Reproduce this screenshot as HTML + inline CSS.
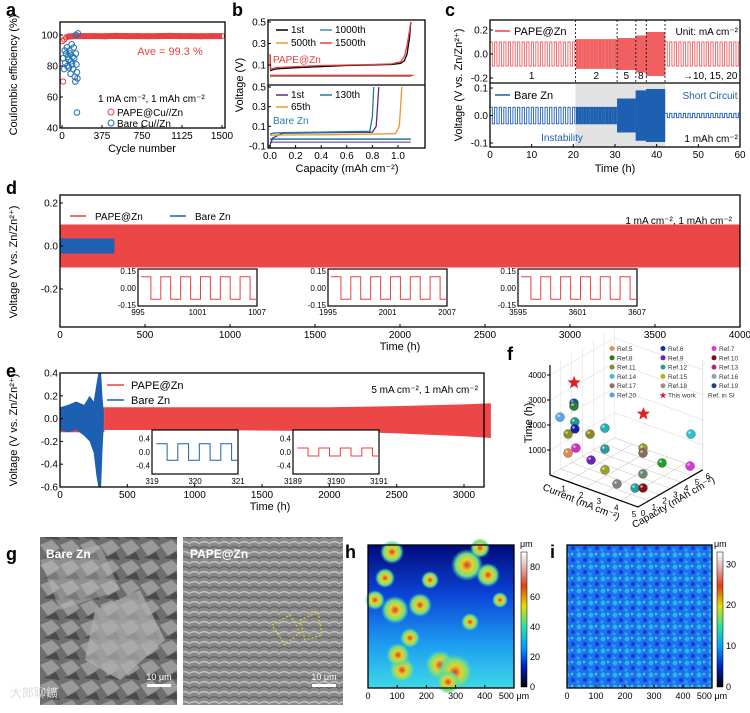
<!DOCTYPE html>
<html><head><meta charset="utf-8"><style>
html,body{margin:0;padding:0;background:#fff}
svg{display:block;font-family:"Liberation Sans",sans-serif}
</style></head><body>
<svg id="fig" width="750" height="713" viewBox="0 0 750 713" xmlns="http://www.w3.org/2000/svg">
<defs>
<linearGradient id="hgrad" x1="0" y1="0" x2="0" y2="1"><stop offset="0" stop-color="#000a7a"/><stop offset="0.35" stop-color="#0c44d8"/><stop offset="0.7" stop-color="#1d9ef0"/><stop offset="1" stop-color="#3fd8e8"/></linearGradient>
<linearGradient id="cbar1" x1="0" y1="1" x2="0" y2="0"><stop offset="0" stop-color="#000"/><stop offset="0.15" stop-color="#0020c0"/><stop offset="0.3" stop-color="#00a0ff"/><stop offset="0.45" stop-color="#30e0a0"/><stop offset="0.6" stop-color="#e0e000"/><stop offset="0.75" stop-color="#e04010"/><stop offset="0.88" stop-color="#e0b0b0"/><stop offset="1" stop-color="#fff"/></linearGradient>
<pattern id="inoise" width="12" height="12" patternUnits="userSpaceOnUse"><rect width="12" height="12" fill="#1e70f0"/><circle cx="3" cy="3" r="2.5" fill="#27b5ee"/><circle cx="9" cy="8" r="2" fill="#0a3fd0"/><circle cx="8" cy="2" r="1.3" fill="#40d0c0"/><circle cx="2" cy="10" r="1.6" fill="#2aa0f0"/></pattern>
<pattern id="sem1" width="20" height="20" patternUnits="userSpaceOnUse"><rect width="20" height="20" fill="#6e6e6e"/><path d="M0 5 L12 0 L20 8 L8 16Z" fill="#9a9a9a"/><path d="M4 18 L16 12 L20 20Z" fill="#4a4a4a"/></pattern>
<pattern id="sem2" width="10" height="10" patternUnits="userSpaceOnUse"><rect width="10" height="10" fill="#8a8a8a"/><path d="M0 3 Q5 0 10 4" stroke="#c8c8c8" stroke-width="1.3" fill="none"/><path d="M0 8 Q5 5 10 9" stroke="#555" stroke-width="1" fill="none"/></pattern>
<radialGradient id="blob"><stop offset="0" stop-color="#d04020"/><stop offset="0.35" stop-color="#e8d030"/><stop offset="0.7" stop-color="#70e080"/><stop offset="1" stop-color="#40c0e0" stop-opacity="0"/></radialGradient>
</defs>
</svg>
<script>
// ---------- DATA ----------
const aRedCycles=[3,10,20,40,60,100,200,300,400,500,600,700,800,900,1000,1100,1200,1300,1400,1500];
const aRedCE=[96,70,97,98.5,99,99.2,99.3,99.3,99.2,99.4,99.3,99.3,99.2,99.3,99.4,99.3,99.3,99.2,99.3,99.3];
const aBlueCycles=[10,20,25,30,40,45,50,55,60,65,70,75,80,85,90,95,100,105,110,115,120,125,130,135,140,145,150,140,130];
const aBlueCE=[85,78,90,82,88,92,80,86,84,79,90,88,75,83,94,81,86,78,92,85,73,70,88,81,76,72,101,50,100];
const bCapPAPE=[0,0.005,0.05,0.2,0.4,0.6,0.8,0.95,1.02,1.05,1.07,1.09,1.1];
const bV1st=[0.2,0.05,0.065,0.075,0.085,0.095,0.1,0.105,0.115,0.14,0.2,0.35,0.5];
const bV1500=[0.2,0.06,0.075,0.085,0.095,0.1,0.105,0.11,0.13,0.18,0.28,0.42,0.5];
const bCapB1=[0,0.02,0.1,0.4,0.8,0.83,0.84,0.85];
const bVB1=[-0.09,-0.02,0.03,0.035,0.04,0.1,0.3,0.5];
const bCapB130=[0,0.02,0.1,0.4,0.78,0.8,0.81];
const bVB130=[0.02,0.03,0.035,0.04,0.05,0.2,0.5];
const bCapB65=[0,0.1,0.5,0.98,1.01,1.02,1.03];
const bVB65=[0.01,0.012,0.015,0.025,0.1,0.3,0.5];
const cSegStart=[0,20.5,30.5,35,37.5,42];
const cSegEnd=[20.5,30.5,35,37.5,42,60];
const cSegAmp=[0.1,0.12,0.13,0.15,0.18,0.1];
const cSegPeriod=[1.1,0.45,0.2,0.15,0.12,1.1];
const cBareAmp=[0.03,0.03,0.06,0.09,0.095,0.008];
const dRedAmp=0.1, dBareEnd=320, dBareAmp=0.035, dEnd=4000;
const eTime=[330,1000,2000,2500,3000,3200];
const eRedTop=[0.1,0.1,0.1,0.11,0.125,0.135];
const eRedBot=[-0.1,-0.1,-0.11,-0.13,-0.155,-0.17];
const fCurrent=[0.57,0.75,0.75,0.8,0.68,0.72,1.05,1.28,0.86,0.72,1.72,1.28,2.51,3.19,4.22,4.67,3.44,2.83,2.83,3.91,4.89,4.94];
const fCapacity=[0,1,1,1,1.2,0.5,2,3,1,0.5,1,3,1,1,1,1,3,4,4,4,5,5];
const fTime=[2460,2820,2700,2080,1720,1700,1410,1460,1050,940,790,620,600,210,310,430,180,810,610,490,370,1660];
const fColor=["#5aa8e0","#1d4e9a","#2a7a3a","#1f9a90","#1020b0","#8a9020","#8a8a20","#20b0b8","#d030c0","#e08850","#7020c0","#2a9a9a","#9aa020","#808080","#20a0a0","#8a1010","#6a8a6a","#9a9a20","#8a6a5a","#20a020","#e030e0","#30c0d0"];
const fStarCurrent=[1,5], fStarCapacity=[0.6,0.5], fStarTime=[3800,3600];
const fLegend=["Ref.5","Ref.6","Ref.7","Ref.8","Ref.9","Ref.10","Ref.11","Ref.12","Ref.13","Ref.14","Ref.15","Ref.16","Ref.17","Ref.18","Ref.19","Ref.20","This work","Ref. in SI"];
const fLegendColor=["#e09050","#1030b0","#e030e0","#208020","#7020c0","#801010","#8a8a20","#20a090","#c02080","#40c0d0","#b0b020","#90a0a0","#907060","#a09080","#204080","#5aa0e0","#e02020",""];

// ---------- helpers ----------
const svg=document.getElementById('fig');
const NS='http://www.w3.org/2000/svg';
function mk(tag,attrs,parent){const e=document.createElementNS(NS,tag);for(const k in attrs)e.setAttribute(k,attrs[k]);(parent||svg).appendChild(e);return e;}
function txt(x,y,s,size,attrs){const t=mk('text',Object.assign({x:x,y:y,'font-size':size||11,fill:'#000'},attrs||{}));t.textContent=s;return t;}
function lin(d0,d1,r0,r1){return v=>r0+(v-d0)*(r1-r0)/(d1-d0);}
function pts(xs,ys,X,Y){return xs.map((v,i)=>X(v).toFixed(1)+','+Y(ys[i]).toFixed(1)).join(' ');}
function sqWave(t0,t1,per,amp,X,Y){let p=[],t=t0,s=1;while(t<t1){const tn=Math.min(t+per/2,t1);p.push(X(t).toFixed(1)+','+Y(s*amp).toFixed(1));p.push(X(tn).toFixed(1)+','+Y(s*amp).toFixed(1));t=tn;s=-s;}return p.join(' ');}
function box(x,y,w,h,name){const r=mk('rect',{x:x,y:y,width:w,height:h,fill:'none',stroke:'#000','stroke-width':1.3});return r;}
function xticks(vals,labels,X,y0,size,name){vals.forEach((v,i)=>{mk('line',{x1:X(v),x2:X(v),y1:y0,y2:y0-3,stroke:'#000'});const t=txt(X(v),y0+11,labels[i],size||10,{'text-anchor':'middle'});});}
function yticks(vals,labels,Y,x0,size,name){vals.forEach((v,i)=>{mk('line',{x1:x0,x2:x0+3,y1:Y(v),y2:Y(v),stroke:'#000'});const t=txt(x0-2,Y(v)+3.5,labels[i],size||10,{'text-anchor':'end'});});}
function panelLabel(x,y,s){const t=txt(x,y,s,18,{'font-weight':'bold'});}
function rotTitle(x,y,s,size){const t=txt(x,y,s,size||11,{'text-anchor':'middle',transform:'rotate(-90 '+x+' '+y+')'});return t;}

// ---------- Panel a ----------
panelLabel(6,16,'a');
const aX=lin(0,1500,62,222), aY=lin(40,100,128,35);
const aband=mk('polyline',{points:pts(aRedCycles.slice(3),aRedCE.slice(3),aX,aY),fill:'none',stroke:'#e84040','stroke-width':6,'stroke-linejoin':'round'});


aRedCycles.forEach((c,i)=>{const e=mk('circle',{cx:aX(c),cy:aY(aRedCE[i]),r:2.6,fill:'none',stroke:'#e84040','stroke-width':1});});
aBlueCycles.forEach((c,i)=>{const e=mk('circle',{cx:aX(c),cy:aY(aBlueCE[i]),r:2.8,fill:'none',stroke:'#2070b0','stroke-width':1});});
box(60,22,165,106,'plot-a-frame');
xticks([0,375,750,1125,1500],['0','375','750','1125','1500'],aX,128,10,'x-tick-a');
yticks([40,60,80,100],['40','60','80','100'],aY,60,10,'y-tick-a');
let t=txt(142,152,'Cycle number',11,{'text-anchor':'middle'});
rotTitle(17,75,'Coulombic efficiency (%)',11);
t=txt(170,55,'Ave = 99.3 %',11,{fill:'#e84040','text-anchor':'middle'});
t=txt(98,102,'1 mA cm⁻², 1 mAh cm⁻²',10);
mk('circle',{cx:111,cy:112,r:3,fill:'none',stroke:'#e84040'});
t=txt(117,116,'PAPE@Cu//Zn',10);
mk('circle',{cx:111,cy:123,r:3,fill:'none',stroke:'#2070b0'});
t=txt(117,127,'Bare Cu//Zn',10);

// ---------- Panel b ----------
panelLabel(232,16,'b');
const bX=lin(0,1,270,398), bYU=lin(0.5,-0.086,22,85), bYL=lin(0.5,-0.1,87,146);
function curve(xs,ys,X,Y,col,name,w){const p=mk('polyline',{points:pts(xs,ys,X,Y),fill:'none',stroke:col,'stroke-width':w||1.3});}
curve([0,1.1],[0.0,0.0],bX,bYU,'#000','pape-strip-1st');
curve([0,1.12],[0.003,0.003],bX,bYU,'#e84040','pape-strip-1500th',1.5);
curve(bCapPAPE,bV1st,bX,bYU,'#000','pape-1st-curve');
curve(bCapPAPE,bV1500,bX,bYU,'#e84040','pape-1500th-curve');
curve([0,1.1],[-0.03,-0.03],bX,bYL,'#1f7a9a','bare-strip',1.5);
curve([0,1.1],[-0.06,-0.06],bX,bYL,'#5a2a8a','bare-strip-1st',1);
curve(bCapB1,bVB1,bX,bYL,'#5a2a8a','bare-1st-curve');
curve(bCapB130,bVB130,bX,bYL,'#1f7a9a','bare-130th-curve');
curve(bCapB65,bVB65,bX,bYL,'#e89a30','bare-65th-curve');
box(268,20,157,128,'plot-b-frame');
mk('line',{x1:268,x2:425,y1:85,y2:85,stroke:'#000','stroke-width':1.2});
xticks([0,0.2,0.4,0.6,0.8,1.0],['0.0','0.2','0.4','0.6','0.8','1.0'],bX,148,10,'x-tick-b');
yticks([0.5,0.3,0.1],['0.5','0.3','0.1'],bYU,268,10,'y-tick-b-top');
yticks([0.5,0.3,0.1,-0.1],['0.5','0.3','0.1','-0.1'],bYL,268,10,'y-tick-b-bottom');
t=txt(347,172,'Capacity (mAh cm⁻²)',11,{'text-anchor':'middle'});
rotTitle(243,85,'Voltage (V)',11);
[[276,33,'#000','1st'],[320,33,'#3a8ad0','1000th'],[276,46,'#e89a30','500th'],[320,46,'#e84040','1500th'],[276,98,'#5a2a8a','1st'],[320,98,'#1f7a9a','130th'],[276,110,'#e89a30','65th']].forEach(l=>{mk('line',{x1:l[0],x2:l[0]+12,y1:l[1]-3,y2:l[1]-3,stroke:l[2],'stroke-width':1.5});const e=txt(l[0]+15,l[1],l[3],10);});
t=txt(273,63,'PAPE@Zn',10,{fill:'#e84040'});
t=txt(273,124,'Bare Zn',10,{fill:'#2a7ab0'});

// ---------- Panel c ----------
panelLabel(445,16,'c');
const cX=lin(0,60,490,740), cYU=lin(0.2,-0.2,30,78), cYL=lin(0.1,-0.1,88,143);
const gshade=mk('rect',{x:cX(20.5),y:84,width:cX(42)-cX(20.5),height:63,fill:'#e2e2e2'});


cSegStart.forEach((s,i)=>{const p=mk('polyline',{points:sqWave(s,cSegEnd[i],cSegPeriod[i],cSegAmp[i],cX,cYU),fill:'none',stroke:'#f06060','stroke-width':0.9});
 const q=mk('polyline',{points:sqWave(s,cSegEnd[i],cSegPeriod[i],cBareAmp[i],cX,cYL),fill:'none',stroke:'#1d5fb0','stroke-width':0.9});});
[20.5,30.5,35,37.5,42].forEach(v=>mk('line',{x1:cX(v),x2:cX(v),y1:20,y2:83,stroke:'#000','stroke-dasharray':'2,2','stroke-width':0.8}));
box(490,20,250,127,'plot-c-frame');
mk('line',{x1:490,x2:740,y1:83,y2:83,stroke:'#000','stroke-width':1.2});
xticks([0,10,20,30,40,50,60],['0','10','20','30','40','50','60'],cX,147,10,'x-tick-c');
yticks([0.2,0.0,-0.2],['0.2','0.0','-0.2'],cYU,490,10,'y-tick-c-top');
yticks([0.1,0.0,-0.1],['0.1','0.0','-0.1'],cYL,490,10,'y-tick-c-bottom');
t=txt(615,172,'Time (h)',11,{'text-anchor':'middle'});
rotTitle(462,85,'Voltage (V vs. Zn/Zn²⁺)',11);
mk('line',{x1:495,x2:510,y1:31,y2:31,stroke:'#e84040','stroke-width':1.5});
t=txt(514,35,'PAPE@Zn',11);
mk('line',{x1:495,x2:510,y1:95,y2:95,stroke:'#1d5fb0','stroke-width':1.5});
t=txt(514,99,'Bare Zn',11);
t=txt(738,35,'Unit: mA cm⁻²',10,{'text-anchor':'end'});
[[10,'1'],[25.5,'2'],[32.7,'5'],[36.2,'8']].forEach(l=>{const e=txt(cX(l[0]),79,l[1],10,{'text-anchor':'middle'});});
t=txt(683,79,'→10, 15, 20',10,{'text-anchor':'start'});
t=txt(710,99,'Short Circuit',10,{fill:'#1d5fb0','text-anchor':'middle'});
t=txt(562,141,'Instability',10,{fill:'#1d5fb0','text-anchor':'middle'});
t=txt(738,142,'1 mAh cm⁻²',10,{'text-anchor':'end'});

// ---------- Panel d ----------
panelLabel(6,194,'d');
const dX=lin(0,4000,60,740), dY=lin(0.2,-0.2,203,289);
let r=mk('rect',{x:dX(0),y:dY(dRedAmp),width:dX(dEnd)-dX(0),height:dY(-dRedAmp)-dY(dRedAmp),fill:'#ec4646'});


r=mk('rect',{x:dX(0),y:dY(dBareAmp),width:dX(dBareEnd)-dX(0),height:dY(-dBareAmp)-dY(dBareAmp),fill:'#2060b0'});


box(60,195,680,132,'plot-d-frame');
xticks([0,500,1000,1500,2000,2500,3000,3500,4000],['0','500','1000','1500','2000','2500','3000','3500','4000'],dX,327,10,'x-tick-d');
yticks([0.2,0.0,-0.2],['0.2','0.0','-0.2'],dY,60,10,'y-tick-d');
t=txt(400,350,'Time (h)',11,{'text-anchor':'middle'});
rotTitle(17,262,'Voltage (V vs. Zn/Zn²⁺)',11);
mk('line',{x1:70,x2:86,y1:216,y2:216,stroke:'#e84040','stroke-width':1.5});
t=txt(95,220,'PAPE@Zn',10);
mk('line',{x1:170,x2:186,y1:216,y2:216,stroke:'#1d5fb0','stroke-width':1.5});
t=txt(195,220,'Bare Zn',10);
t=txt(732,224,'1 mA cm⁻², 1 mAh cm⁻²',10,{'text-anchor':'end'});
const dInsetStart=[995,1995,3595];
dInsetStart.forEach((s,i)=>{const x0=138+i*190, X=lin(s,s+12,x0,x0+119), Y=lin(0.15,-0.15,271,305);
 mk('rect',{x:x0,y:269,width:119,height:37,fill:'#fff',stroke:'#000','stroke-width':1.2});
 const p=mk('polyline',{points:sqWave(s+0.3,s+12,2,0.1,X,Y),fill:'none',stroke:'#e84040','stroke-width':1});
 [0.15,0,-0.15].forEach((v,k)=>{const e=txt(x0-2,Y(v)+3,['0.15','0.00','-0.15'][k],8,{'text-anchor':'end'});});
 [s,s+6,s+12].forEach(v=>{const e=txt(X(v),315,String(v),8,{'text-anchor':'middle'});});});

// ---------- Panel e ----------
panelLabel(6,377,'e');
const eX=lin(0,3000,60,464), eY=lin(0.4,-0.6,373,487);
const eTop=eTime.map((v,i)=>eX(v).toFixed(1)+','+eY(eRedTop[i]).toFixed(1));
const eBot=eTime.map((v,i)=>eX(v).toFixed(1)+','+eY(eRedBot[i]).toFixed(1)).reverse();
let pg=mk('polygon',{points:eTop.concat(eBot).join(' '),fill:'#ec4646'});


r=mk('rect',{x:eX(0),y:eY(0.1),width:eX(330)-eX(0),height:eY(-0.12)-eY(0.1),fill:'#ec4646'});


const eBareT=[0,60,120,180,220,250,270,285,295,305,315,325];
const eBareHi=[0.1,0.12,0.15,0.12,0.2,0.15,0.3,0.4,0.4,0.4,0.2,0.05];
const eBareLo=[-0.1,-0.12,-0.1,-0.15,-0.2,-0.3,-0.5,-0.6,-0.6,-0.6,-0.3,-0.05];
pg=mk('polygon',{points:eBareT.map((v,i)=>eX(v).toFixed(1)+','+eY(eBareHi[i]).toFixed(1)).concat(eBareT.map((v,i)=>eX(v).toFixed(1)+','+eY(eBareLo[i]).toFixed(1)).reverse()).join(' '),fill:'#1d5fb0'});


box(60,373,424,114,'plot-e-frame');
xticks([0,500,1000,1500,2000,2500,3000],['0','500','1000','1500','2000','2500','3000'],eX,487,10,'x-tick-e');
yticks([0.4,0.2,0,-0.2,-0.4,-0.6],['0.4','0.2','0.0','-0.2','-0.4','-0.6'],eY,60,10,'y-tick-e');
t=txt(270,510,'Time (h)',11,{'text-anchor':'middle'});
rotTitle(17,430,'Voltage (V vs. Zn/Zn²⁺)',11);
mk('line',{x1:107,x2:124,y1:385,y2:385,stroke:'#e84040','stroke-width':1.5});
t=txt(131,389,'PAPE@Zn',11);
mk('line',{x1:107,x2:124,y1:400,y2:400,stroke:'#1d5fb0','stroke-width':1.5});
t=txt(131,404,'Bare Zn',11);
t=txt(478,393,'5 mA cm⁻², 1 mAh cm⁻²',10,{'text-anchor':'end'});
[[319,152,'#1d5fb0'],[3189,293,'#e84040']].forEach((ins,i)=>{const s=ins[0],x0=ins[1],X=lin(s,s+2,x0,x0+86),Y=lin(0.6,-0.6,432,472);
 mk('rect',{x:x0,y:430,width:86,height:44,fill:'#fff',stroke:'#000','stroke-width':1.2});
 const p=mk('polyline',{points:sqWave(s+0.1,s+2,0.5,i==0?0.25:0.12,X,Y),fill:'none',stroke:ins[2],'stroke-width':1});
 [0.4,0,-0.4].forEach((v,k)=>{const e=txt(x0-2,Y(v)+3,['0.4','0.0','-0.4'][k],8,{'text-anchor':'end'});});
 [s,s+1,s+2].forEach(v=>{const e=txt(X(v),484,String(v),8,{'text-anchor':'middle'});});});

// ---------- Panel f ----------
panelLabel(507,360,'f');
function G(c,cap,tm){return [550+17.6*c+10.8*cap, 475+6.4*c-6.2*cap-tm*0.025];}
[0,1,2,3,4,5].forEach(c=>{const a=G(c,0,0),b=G(c,6,0);mk('line',{x1:a[0],y1:a[1],x2:b[0],y2:b[1],stroke:'#ccc','stroke-width':0.6});});
[0,1,2,3,4,5,6].forEach(cp=>{const a=G(0,cp,0),b=G(5,cp,0);mk('line',{x1:a[0],y1:a[1],x2:b[0],y2:b[1],stroke:'#ccc','stroke-width':0.6});const u=G(0,cp,4400);mk('line',{x1:a[0],y1:a[1],x2:u[0],y2:u[1],stroke:'#ddd','stroke-width':0.5});});
[1000,2000,3000,4000].forEach(tm=>{const a=G(0,0,tm),b=G(0,6,tm),c2=G(5,6,tm);mk('polyline',{points:a.join(',')+' '+b.join(',')+' '+c2.join(','),fill:'none',stroke:'#ddd','stroke-width':0.6});
 mk('line',{x1:a[0],x2:a[0]-3,y1:a[1],y2:a[1],stroke:'#000'});
 const e=txt(a[0]-4,a[1]+3,String(tm),8,{'text-anchor':'end'});});
const ax0=G(0,0,0),axT=G(0,0,4400),ax5=G(5,0,0),ax6=G(5,6,0),axR=G(5,6,4400);
mk('line',{x1:ax0[0],y1:ax0[1],x2:axT[0],y2:axT[1],stroke:'#000','stroke-width':1.2});
mk('line',{x1:ax0[0],y1:ax0[1],x2:ax5[0],y2:ax5[1],stroke:'#000','stroke-width':1.2});
mk('line',{x1:ax5[0],y1:ax5[1],x2:ax6[0],y2:ax6[1],stroke:'#000','stroke-width':1.2});
mk('line',{x1:ax6[0],y1:ax6[1],x2:axR[0],y2:axR[1],stroke:'#ccc','stroke-width':0.6});
[1,2,3,4,5].forEach(c=>{const p=G(c,0,0);const e=txt(p[0]-4,p[1]+10,String(c),8,{'text-anchor':'middle'});});
[0,1,2,3,4,5,6].forEach(c=>{const p=G(5,c,0);const e=txt(p[0]+5,p[1]+9,String(c),8,{'text-anchor':'middle'});});
t=txt(580,505,'Current (mA cm⁻²)',10,{'text-anchor':'middle',transform:'rotate(22 580 505)'});
t=txt(675,505,'Capacity (mAh cm⁻²)',10,{'text-anchor':'middle',transform:'rotate(-30 675 505)'});
rotTitle(532,423,'Time (h)',11);
fCurrent.forEach((c,i)=>{const p=G(c,fCapacity[i],fTime[i]);const e=mk('circle',{cx:p[0],cy:p[1],r:4.5,fill:fColor[i],stroke:'#333','stroke-width':0.3});mk('circle',{cx:p[0]-1.5,cy:p[1]-1.5,r:1.3,fill:'#fff','fill-opacity':0.6});});
function starPath(cx,cy,R){let s='';for(let k=0;k<10;k++){const a=-Math.PI/2+k*Math.PI/5,rr=k%2?R*0.42:R;s+=(k?'L':'M')+(cx+rr*Math.cos(a)).toFixed(1)+' '+(cy+rr*Math.sin(a)).toFixed(1);}return s+'Z';}
fStarCurrent.forEach((c,i)=>{const p=G(c,fStarCapacity[i],fStarTime[i]);const e=mk('path',{d:starPath(p[0],p[1],7),fill:'#e02020'});});
fLegend.forEach((s,i)=>{const col=i%3,row=Math.floor(i/3),x=612+col*51,y=351+row*9.3;
 if(s==='This work'){mk('path',{d:starPath(x,y-2,3.5),fill:'#e02020'});}else if(fLegendColor[i]){mk('circle',{cx:x,cy:y-2.5,r:2.5,fill:fLegendColor[i]});}
 const e=txt(x+(fLegendColor[i]?5:-6),y,s,6.5,{fill:'#333'});});

// ---------- Panel g ----------
panelLabel(6,560,'g');
r=mk('rect',{x:40,y:537,width:137,height:168,fill:'url(#sem1)'});
mk('path',{d:'M95 610 L140 590 L165 640 L120 680 L85 660Z',fill:'#b0b0b0',opacity:0.7});
mk('path',{d:'M40 560 L100 545 L120 590 L60 610Z',fill:'#c0c0c0',opacity:0.4});
r=mk('rect',{x:183,y:537,width:160,height:168,fill:'url(#sem2)'});
mk('path',{d:'M272 625 L290 615 L300 632 L285 645Z M300 620 L318 612 L322 635 L305 640Z',fill:'none',stroke:'#e8e020','stroke-dasharray':'2,2','stroke-width':1});
t=txt(46,558,'Bare Zn',12,{fill:'#fff','font-weight':'bold'});
t=txt(190,558,'PAPE@Zn',12,{fill:'#fff','font-weight':'bold'});
mk('rect',{x:147,y:684,width:24,height:3,fill:'#fff'});mk('rect',{x:312,y:684,width:24,height:3,fill:'#fff'});
t=txt(159,680,'10 μm',9,{fill:'#fff','text-anchor':'middle'});
t=txt(324,680,'10 μm',9,{fill:'#fff','text-anchor':'middle'});
t=txt(10,697,'大郎聊鑛',12,{fill:'#ddd','font-family':'"Liberation Sans","Noto Sans CJK SC",sans-serif'});

// ---------- Panel h ----------
panelLabel(345,558,'h');
r=mk('rect',{x:368,y:545,width:146,height:143,fill:'url(#hgrad)'});
const hBlobX=[392,395,467,488,420,410,470,440,402,455,385,500,375,430,480,398,448];
const hBlobY=[552,610,565,575,605,638,622,665,670,672,578,600,600,580,548,655,682];
const hBlobR=[12,14,16,12,12,10,9,15,13,18,10,8,10,9,10,12,12];
hBlobX.forEach((x,i)=>{const e=mk('circle',{cx:x,cy:hBlobY[i],r:hBlobR[i],fill:'url(#blob)'});});
box(368,545,146,143,'plot-h-frame');
const hX=lin(0,500,368,514);
xticks([0,100,200,300,400,500],['0','100','200','300','400','500 μm'],hX,688,9,'x-tick-h');
r=mk('rect',{x:521,y:552,width:6,height:135,fill:'url(#cbar1)',stroke:'#000','stroke-width':0.5});
const cbH=lin(0,90,687,552);
[0,20,40,60,80].forEach(v=>{const e=txt(530,cbH(v)+3,String(v),9);});
t=txt(520,547,'μm',9);

// ---------- Panel i ----------
panelLabel(550,558,'i');
r=mk('rect',{x:567,y:545,width:145,height:143,fill:'url(#inoise)'});
box(567,545,145,143,'plot-i-frame');
const iX=lin(0,500,567,712);
xticks([0,100,200,300,400,500],['0','100','200','300','400','500 μm'],iX,688,9,'x-tick-i');
r=mk('rect',{x:717,y:552,width:6,height:135,fill:'url(#cbar1)',stroke:'#000','stroke-width':0.5});
const cbI=lin(0,33,687,552);
[0,10,20,30].forEach(v=>{const e=txt(726,cbI(v)+3,String(v),9);});
t=txt(714,547,'μm',9);
</script>
</body></html>
